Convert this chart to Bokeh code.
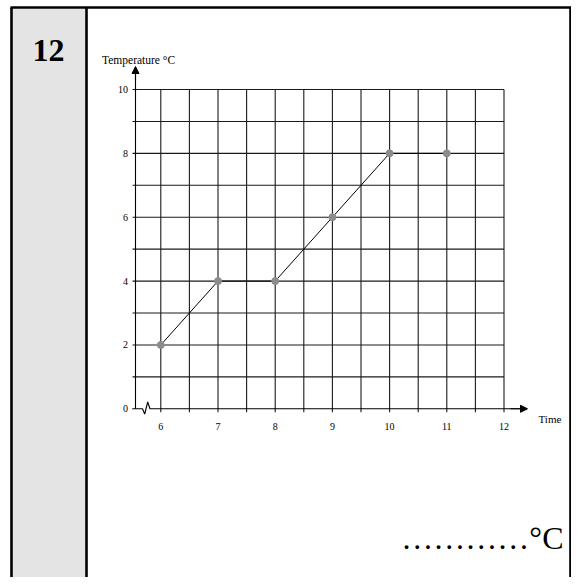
import numpy as np
from bokeh.plotting import figure
from bokeh.models import Arrow, NormalHead
from bokeh.core.properties import value
from bokeh.embed import file_html
from bokeh.resources import INLINE

# ---- data ----
question_number = "12"
time = [6, 7, 8, 9, 10, 11]
temperature = [2, 4, 4, 6, 8, 8]
x_tick_values = [6, 7, 8, 9, 10, 11, 12]
x_tick_labels = ["6", "7", "8", "9", "10", "11", "12"]
y_tick_values = [0, 2, 4, 6, 8, 10]
y_tick_labels = ["0", "2", "4", "6", "8", "10"]
y_title = "Temperature °C"
x_title = "Time"
answer_text = "…………°C"

FONT = value("Liberation Serif")

W, H = 571, 577
# pixel calibration of the scale (canvas pixels)
X6, XU = 160.3, 57.2     # x of time=6, px per unit
Y0, YU = 408.3, 31.93    # y of temp=0, px per unit


def X(px):
    return 6 + (px - X6) / XU


def Y(py):
    return (Y0 - py) / YU


p = figure(width=W, height=H, x_range=(X(0), X(W)), y_range=(Y(H), Y(0)),
           output_backend="svg", toolbar_location=None,
           x_axis_location=None, y_axis_location=None, min_border=0,
           background_fill_color="white", border_fill_color="white", outline_line_color=None)
p.grid.visible = False

# ---- frame decorations ----
p.quad(left=[X(12)], right=[X(85)], top=[Y(8)], bottom=[Y(H)],
       fill_color="#e4e4e4", line_color=None)
p.segment(x0=[X(10), X(11), X(86), X(570)], y0=[Y(7), Y(7), Y(7), Y(7)],
          x1=[X(571), X(11), X(86), X(570)], y1=[Y(7), Y(H), Y(H), Y(H)],
          line_color="black", line_width=2.6)
p.text(x=[X(48)], y=[Y(50)], text=[question_number], text_font=FONT,
       text_font_size="32px", text_font_style="bold", text_align="center",
       text_baseline="alphabetic", text_color="black")

# ---- grid ----
gx = np.arange(6, 12.001, 0.5)
p.segment(x0=gx, y0=[Y(411.7)] * len(gx), x1=gx, y1=[10] * len(gx),
          line_color="#1a1a1a", line_width=1.1)
gy = np.arange(1, 10.001, 1)
p.segment(x0=[X(132)] * len(gy), y0=gy, x1=[12] * len(gy), y1=gy,
          line_color="#1a1a1a", line_width=1.1)

# ---- axes ----
p.segment(x0=[X(135)], y0=[0], x1=[X(135)], y1=[Y(72)], line_color="black", line_width=1.1)
p.add_layout(Arrow(end=NormalHead(size=7, fill_color="black", line_color="black"),
                   x_start=X(135), y_start=Y(80), x_end=X(135), y_end=Y(66),
                   line_color="black", line_width=1.1))
p.line(x=[X(131.7), X(142), X(144.2), X(147.2), X(149.5), X(520)],
       y=[0, 0, Y(413.5), Y(401.5), 0, 0], line_color="black", line_width=1.1)
p.add_layout(Arrow(end=NormalHead(size=7, fill_color="black", line_color="black"),
                   x_start=X(510), y_start=0, x_end=X(527), y_end=0,
                   line_color="black", line_width=1.1))

# tick labels
p.text(x=x_tick_values, y=[Y(426)] * len(x_tick_values), text=x_tick_labels,
       text_font=FONT, text_font_size="10px", text_align="center",
       text_baseline="alphabetic", text_color="black")
p.text(x=[X(127.5)] * len(y_tick_values), y=y_tick_values, text=y_tick_labels,
       text_font=FONT, text_font_size="10px", text_align="right",
       text_baseline="middle", text_color="black")
p.text(x=[X(101.5)], y=[Y(59)], text=[y_title], text_font=FONT, text_font_size="11.5px",
       text_align="left", text_baseline="alphabetic", text_color="black")
p.text(x=[X(538)], y=[Y(418.5)], text=[x_title], text_font=FONT, text_font_size="11px",
       text_align="left", text_baseline="alphabetic", text_color="black")

# ---- data ----
p.line(x=time, y=temperature, line_color="black", line_width=1)
p.scatter(x=time, y=temperature, size=7, fill_color="#8c8c8c", line_color="#8c8c8c")

# ---- answer line ----
p.text(x=[X(563)], y=[Y(537)], text=[answer_text], text_font=FONT, text_font_size="32px",
       text_align="right", text_baseline="alphabetic", text_color="black")

open("out.html", "w").write(file_html(p, INLINE))
